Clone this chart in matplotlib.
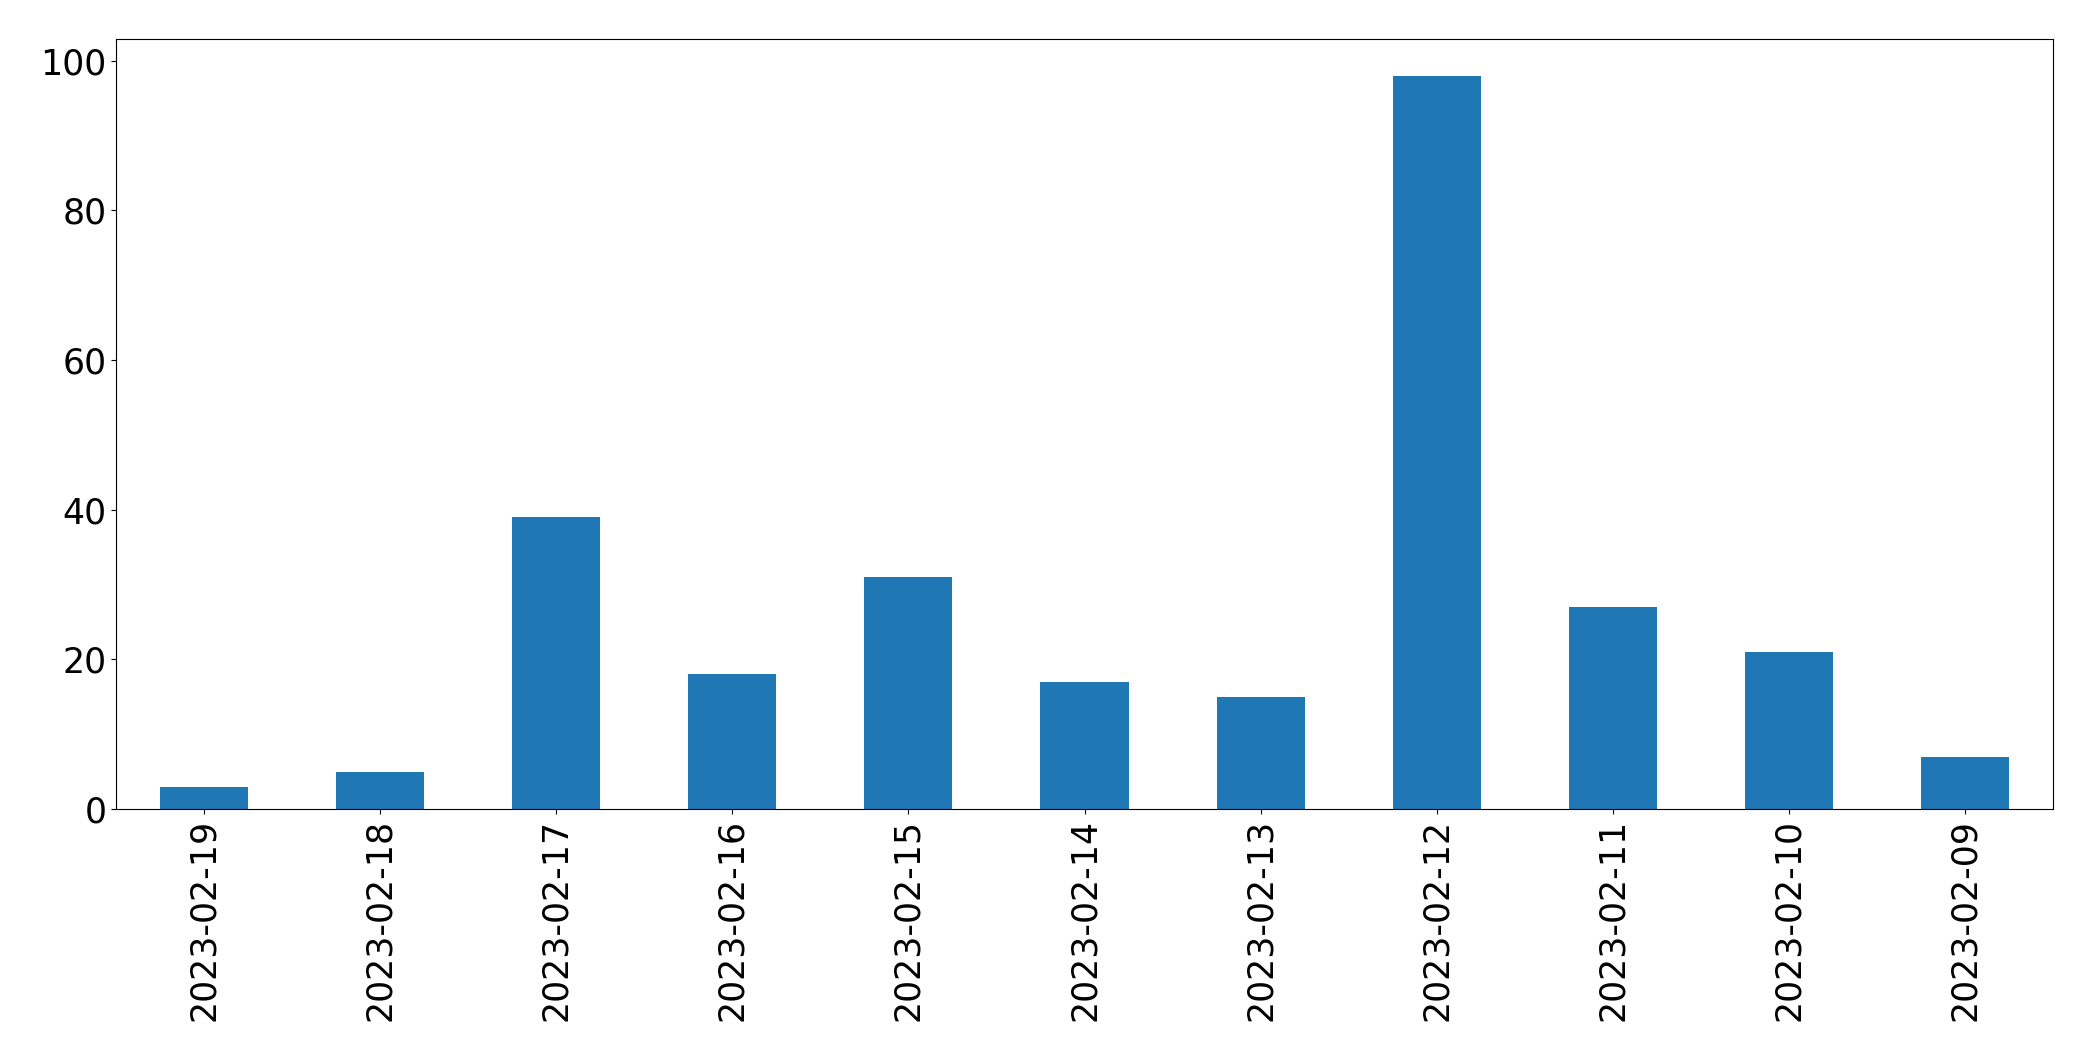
import matplotlib

matplotlib.use("Agg")
import matplotlib.pyplot as plt
import pandas as pd

dates = [
    "2023-02-19", "2023-02-18", "2023-02-17", "2023-02-16", "2023-02-15",
    "2023-02-14", "2023-02-13", "2023-02-12", "2023-02-11", "2023-02-10",
    "2023-02-09",
]
counts = [3, 5, 39, 18, 31, 17, 15, 98, 27, 21, 7]

series = pd.Series(counts, index=dates)

fig, ax = plt.subplots(figsize=(20.93, 10.61), dpi=100)
series.plot(kind="bar", ax=ax, color="#1f77b4")
ax.tick_params(axis="both", labelsize=25)
for spine in ax.spines.values():
    spine.set_color("black")
fig.subplots_adjust(left=116 / 2093, right=2053 / 2093, top=1 - 39 / 1061, bottom=1 - 809 / 1061)
fig.savefig("out.png", dpi=100)
plt.close(fig)
